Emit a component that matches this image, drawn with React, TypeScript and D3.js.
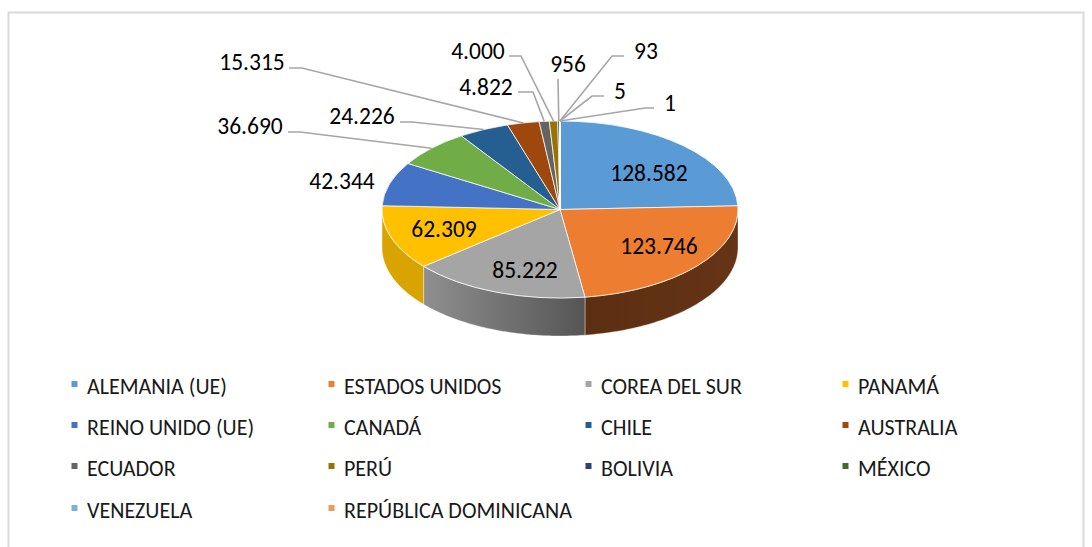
import React from "react";
import * as d3 from "d3";

const categories = ["ALEMANIA (UE)", "ESTADOS UNIDOS", "COREA DEL SUR", "PANAMÁ", "REINO UNIDO (UE)", "CANADÁ", "CHILE", "AUSTRALIA", "ECUADOR", "PERÚ", "BOLIVIA", "MÉXICO", "VENEZUELA", "REPÚBLICA DOMINICANA"];
const values = [128582, 123746, 85222, 62309, 42344, 36690, 24226, 15315, 4822, 4000, 956, 93, 5, 1];
const valueLabels = ["128.582", "123.746", "85.222", "62.309", "42.344", "36.690", "24.226", "15.315", "4.822", "4.000", "956", "93", "5", "1"];
const colors = ["#5b9bd5", "#ed7d31", "#a5a5a5", "#ffc000", "#4472c4", "#70ad47", "#255e91", "#9e480e", "#636363", "#997300", "#264478", "#43682b", "#7cafdd", "#f1975a"];

const W = 1092, H = 547;
const cx = 560, cy = 209.5, rx = 178, ry = 88.5, depth = 38;

const labelLayout: { x: number; y: number; leader?: [number, number][] }[] = [
  { x: 649, y: 181 },
  { x: 659, y: 254 },
  { x: 525, y: 278 },
  { x: 444, y: 237 },
  { x: 342, y: 189 },
  { x: 250, y: 134, leader: [[288, 132], [300, 132]] },
  { x: 362, y: 124, leader: [[400, 122], [412, 122]] },
  { x: 252, y: 70, leader: [[289, 68], [302, 68]] },
  { x: 486, y: 95, leader: [[518, 92], [533, 92]] },
  { x: 478, y: 59, leader: [[509, 56], [521, 56]] },
  { x: 568, y: 72, leader: [[558, 79], [558, 79]] },
  { x: 646, y: 59, leader: [[624, 56], [612, 56]] },
  { x: 620, y: 99, leader: [[604, 96], [592, 96]] },
  { x: 670, y: 111, leader: [[654, 108], [645, 108]] },
];

const legendCols = [72, 329, 586, 843];
const legendRows = [387, 428, 469, 511];

const font = "Carlito, Calibri, 'Open Sans', Lato, sans-serif";

const pts = (a0: number, a1: number, dy: number, rev = false) => {
  const n = Math.max(2, Math.ceil(Math.abs(a1 - a0) * 60));
  const out: [number, number][] = [];
  for (let i = 0; i <= n; i++) {
    const a = a0 + ((a1 - a0) * i) / n;
    out.push([cx + rx * Math.sin(a), cy - ry * Math.cos(a) + dy]);
  }
  return rev ? out.reverse() : out;
};

const sideColors: Record<number, [string, string]> = {
  1: ["#5c2e12", "#663416"],
  2: ["#8f8f8f", "#555555"],
  3: ["#d9a300", "#d9a300"],
};

export default function App() {
  const arcs = d3.pie<number>().sort(null)(values);
  const arcGen = d3.arc<d3.PieArcDatum<number>>().innerRadius(0).outerRadius(rx);
  const line = d3.line();
  const polar = (a: number, k: number): [number, number] => [cx + k * rx * Math.sin(a), cy - k * ry * Math.cos(a)];

  return (
    <svg width={W} height={H} style={{ position: "absolute", left: 0, top: 0, background: "#fff" }} fontFamily={font}>
      <defs>
        {Object.entries(sideColors).map(([k, [a, b]]) => (
          <linearGradient key={k} id={`side${k}`} x1="0" x2="1" y1="0" y2="0">
            <stop offset="0" stopColor={a} />
            <stop offset="1" stopColor={b} />
          </linearGradient>
        ))}
      </defs>
      <path d={`M8.5 ${H}V12.5H1083.5V${H}`} fill="none" stroke="#d9d9d9" strokeWidth={2} />

      {arcs.map((d, i) => {
        const a0 = Math.max(d.startAngle, Math.PI / 2);
        const a1 = Math.min(d.endAngle, (3 * Math.PI) / 2);
        if (a1 <= a0) return null;
        const poly = [...pts(a0, a1, 0), ...pts(a0, a1, depth, true)];
        return <path key={i} d={line(poly) + "Z"} fill={sideColors[i] ? `url(#side${i})` : colors[i]} stroke="#fff" strokeWidth={0.6} strokeOpacity={0.6} />;
      })}

      <g transform={`translate(${cx},${cy}) scale(1,${ry / rx})`}>
        {arcs.map((d, i) => (
          <path key={i} d={arcGen(d)!} fill={colors[i]} stroke="#fff" strokeWidth={1} strokeOpacity={0.75} vectorEffect="non-scaling-stroke" />
        ))}
      </g>

      {arcs.map((d, i) => {
        const l = labelLayout[i];
        if (!l.leader) return null;
        const p = polar((d.startAngle + d.endAngle) / 2, 1);
        return <path key={i} d={line([...l.leader, p])!} fill="none" stroke="#a6a6a6" strokeWidth={1.6} />;
      })}

      {valueLabels.map((t, i) => (
        <text key={i} x={labelLayout[i].x} y={labelLayout[i].y} textAnchor="middle" fontSize={23.5} fill="#000">{t}</text>
      ))}

      {categories.map((c, i) => {
        const x = legendCols[i % 4], y = legendRows[Math.floor(i / 4)];
        return (
          <g key={c}>
            <rect x={x - 0.5} y={y - 6} width={6} height={6} fill={colors[i]} />
            <text x={x + 15} y={y + 7} fontSize={22} fill="#1a1a1a">{c}</text>
          </g>
        );
      })}
    </svg>
  );
}
